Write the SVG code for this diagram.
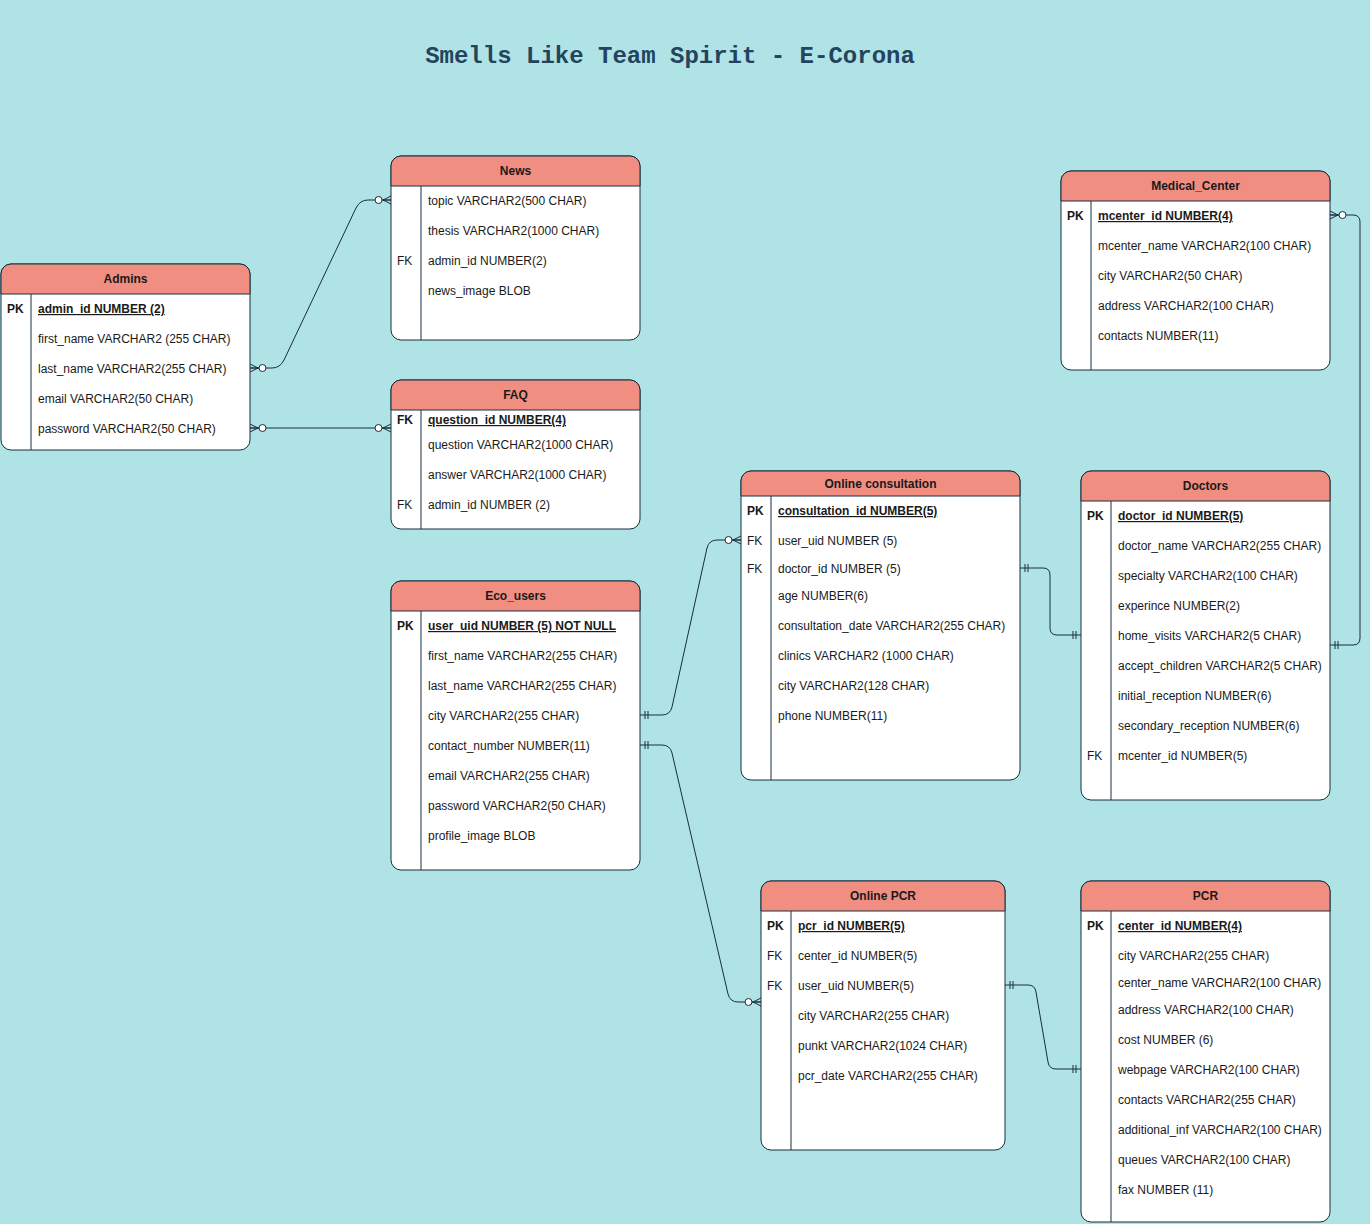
<svg xmlns="http://www.w3.org/2000/svg" width="1370" height="1224" viewBox="0 0 1370 1224">
<style>
.box{fill:#FFFFFF;stroke:#182E3E;stroke-width:1}
.hdr{fill:#F08E81;stroke:#182E3E;stroke-width:1}
.ln{stroke:#182E3E;stroke-width:1;fill:none}
.t{font-family:"Liberation Sans",Arial,sans-serif;font-size:12px;fill:#1A1A1A}
.h{font-family:"Liberation Sans",Arial,sans-serif;font-size:12px;font-weight:bold;fill:#1A1A1A;text-anchor:middle}
.b{font-weight:bold}
.u{font-weight:bold;text-decoration:underline}
.title{font-family:"Liberation Mono","Courier New",monospace;font-size:24px;font-weight:bold;fill:#23445D;text-anchor:middle}
.conn{stroke:#182E3E;stroke-width:1;fill:none;marker-start:url(#one);marker-end:url(#one)}
</style>
<defs>
<marker id="zm" viewBox="-20 -10 22 20" markerWidth="22" markerHeight="20" refX="0" refY="0" orient="auto-start-reverse" markerUnits="userSpaceOnUse" overflow="visible">
<path d="M-9,0 L0,0 M-8,0 L0,-4 M-8,0 L0,4" stroke="#182E3E" stroke-width="1" fill="none"/>
<circle cx="-12.5" cy="0" r="3.5" fill="#FFFFFF" stroke="#182E3E" stroke-width="1"/>
</marker>
<marker id="one" viewBox="-20 -10 22 20" markerWidth="22" markerHeight="20" refX="0" refY="0" orient="auto-start-reverse" markerUnits="userSpaceOnUse" overflow="visible">
<path d="M-5,-4 L-5,4 M-8,-4 L-8,4" stroke="#182E3E" stroke-width="1" fill="none"/>
</marker>
</defs>
<rect x="0" y="0" width="1370" height="1224" fill="#B0E3E6"/>
<text class="title" x="670" y="63">Smells Like Team Spirit - E-Corona</text>

<g id="connectors">
<path class="ln" d="M250,368 L272,368 Q280,368 284,360 L356,208 Q360,200 368,200 L391,200" marker-start="url(#zm)" marker-end="url(#zm)"/>
<path class="ln" d="M250,428 L391,428" marker-start="url(#zm)" marker-end="url(#zm)"/>
<path class="ln" d="M640,715 L662,715 Q670,715 672,707 L707,548 Q709,540 717,540 L741,540" marker-start="url(#one)" marker-end="url(#zm)"/>
<path class="ln" d="M640,745 L662,745 Q670,745 672,753 L728,994 Q730,1002 738,1002 L761,1002" marker-start="url(#one)" marker-end="url(#zm)"/>
<path class="ln" d="M1020,568 L1043,568 Q1050,568 1050,575 L1050,628 Q1050,635 1057,635 L1081,635" marker-start="url(#one)" marker-end="url(#one)"/>
<path class="ln" d="M1330,215 L1353,215 Q1360,215 1360,222 L1360,638 Q1360,645 1353,645 L1330,645" marker-start="url(#zm)" marker-end="url(#one)"/>
<path class="ln" d="M1005,985 L1028,985 Q1035,985 1036,992 L1048,1062 Q1049,1069 1056,1069 L1081,1069" marker-start="url(#one)" marker-end="url(#one)"/>
</g>

<g id="admins">
<rect class="box" x="1" y="264" width="249" height="186" rx="10"/>
<path class="hdr" d="M1,294 L1,274 A10,10 0 0 1 11,264 L240,264 A10,10 0 0 1 250,274 L250,294 Z"/>
<line class="ln" x1="31" y1="294" x2="31" y2="450"/>
<text class="h" x="125.5" y="283">Admins</text>
<text class="t b" x="7" y="313">PK</text>
<text class="t u" x="38" y="313">admin_id NUMBER (2)</text>
<text class="t" x="38" y="343">first_name VARCHAR2 (255 CHAR)</text>
<text class="t" x="38" y="373">last_name VARCHAR2(255 CHAR)</text>
<text class="t" x="38" y="403">email VARCHAR2(50 CHAR)</text>
<text class="t" x="38" y="433">password VARCHAR2(50 CHAR)</text>
</g>

<g id="news">
<rect class="box" x="391" y="156" width="249" height="184" rx="10"/>
<path class="hdr" d="M391,186 L391,166 A10,10 0 0 1 401,156 L630,156 A10,10 0 0 1 640,166 L640,186 Z"/>
<line class="ln" x1="421" y1="186" x2="421" y2="340"/>
<text class="h" x="515.5" y="175">News</text>
<text class="t" x="428" y="205">topic VARCHAR2(500 CHAR)</text>
<text class="t" x="428" y="235">thesis VARCHAR2(1000 CHAR)</text>
<text class="t" x="397" y="265">FK</text>
<text class="t" x="428" y="265">admin_id NUMBER(2)</text>
<text class="t" x="428" y="295">news_image BLOB</text>
</g>

<g id="faq">
<rect class="box" x="391" y="380" width="249" height="149" rx="10"/>
<path class="hdr" d="M391,410 L391,390 A10,10 0 0 1 401,380 L630,380 A10,10 0 0 1 640,390 L640,410 Z"/>
<line class="ln" x1="421" y1="410" x2="421" y2="529"/>
<text class="h" x="515.5" y="399">FAQ</text>
<text class="t b" x="397" y="424">FK</text>
<text class="t u" x="428" y="424">question_id NUMBER(4)</text>
<text class="t" x="428" y="449">question VARCHAR2(1000 CHAR)</text>
<text class="t" x="428" y="479">answer VARCHAR2(1000 CHAR)</text>
<text class="t" x="397" y="509">FK</text>
<text class="t" x="428" y="509">admin_id NUMBER (2)</text>
</g>

<g id="medical_center">
<rect class="box" x="1061" y="171" width="269" height="199" rx="10"/>
<path class="hdr" d="M1061,201 L1061,181 A10,10 0 0 1 1071,171 L1320,171 A10,10 0 0 1 1330,181 L1330,201 Z"/>
<line class="ln" x1="1091" y1="201" x2="1091" y2="370"/>
<text class="h" x="1195.5" y="190">Medical_Center</text>
<text class="t b" x="1067" y="220">PK</text>
<text class="t u" x="1098" y="220">mcenter_id NUMBER(4)</text>
<text class="t" x="1098" y="250">mcenter_name VARCHAR2(100 CHAR)</text>
<text class="t" x="1098" y="280">city VARCHAR2(50 CHAR)</text>
<text class="t" x="1098" y="310">address VARCHAR2(100 CHAR)</text>
<text class="t" x="1098" y="340">contacts NUMBER(11)</text>
</g>

<g id="online_consultation">
<rect class="box" x="741" y="471" width="279" height="309" rx="10"/>
<path class="hdr" d="M741,496 L741,481 A10,10 0 0 1 751,471 L1010,471 A10,10 0 0 1 1020,481 L1020,496 Z"/>
<line class="ln" x1="771" y1="496" x2="771" y2="780"/>
<text class="h" x="880.5" y="488">Online consultation</text>
<text class="t b" x="747" y="515">PK</text>
<text class="t u" x="778" y="515">consultation_id NUMBER(5)</text>
<text class="t" x="747" y="545">FK</text>
<text class="t" x="778" y="545">user_uid NUMBER (5)</text>
<text class="t" x="747" y="573">FK</text>
<text class="t" x="778" y="573">doctor_id NUMBER (5)</text>
<text class="t" x="778" y="600">age NUMBER(6)</text>
<text class="t" x="778" y="630">consultation_date VARCHAR2(255 CHAR)</text>
<text class="t" x="778" y="660">clinics VARCHAR2 (1000 CHAR)</text>
<text class="t" x="778" y="690">city VARCHAR2(128 CHAR)</text>
<text class="t" x="778" y="720">phone NUMBER(11)</text>
</g>

<g id="doctors">
<rect class="box" x="1081" y="471" width="249" height="329" rx="10"/>
<path class="hdr" d="M1081,501 L1081,481 A10,10 0 0 1 1091,471 L1320,471 A10,10 0 0 1 1330,481 L1330,501 Z"/>
<line class="ln" x1="1111" y1="501" x2="1111" y2="800"/>
<text class="h" x="1205.5" y="490">Doctors</text>
<text class="t b" x="1087" y="520">PK</text>
<text class="t u" x="1118" y="520">doctor_id NUMBER(5)</text>
<text class="t" x="1118" y="550">doctor_name VARCHAR2(255 CHAR)</text>
<text class="t" x="1118" y="580">specialty VARCHAR2(100 CHAR)</text>
<text class="t" x="1118" y="610">experince NUMBER(2)</text>
<text class="t" x="1118" y="640">home_visits VARCHAR2(5 CHAR)</text>
<text class="t" x="1118" y="670">accept_children VARCHAR2(5 CHAR)</text>
<text class="t" x="1118" y="700">initial_reception NUMBER(6)</text>
<text class="t" x="1118" y="730">secondary_reception NUMBER(6)</text>
<text class="t" x="1087" y="760">FK</text>
<text class="t" x="1118" y="760">mcenter_id NUMBER(5)</text>
</g>

<g id="eco_users">
<rect class="box" x="391" y="581" width="249" height="289" rx="10"/>
<path class="hdr" d="M391,611 L391,591 A10,10 0 0 1 401,581 L630,581 A10,10 0 0 1 640,591 L640,611 Z"/>
<line class="ln" x1="421" y1="611" x2="421" y2="870"/>
<text class="h" x="515.5" y="600">Eco_users</text>
<text class="t b" x="397" y="630">PK</text>
<text class="t u" x="428" y="630">user_uid NUMBER (5) NOT NULL</text>
<text class="t" x="428" y="660">first_name VARCHAR2(255 CHAR)</text>
<text class="t" x="428" y="690">last_name VARCHAR2(255 CHAR)</text>
<text class="t" x="428" y="720">city VARCHAR2(255 CHAR)</text>
<text class="t" x="428" y="750">contact_number NUMBER(11)</text>
<text class="t" x="428" y="780">email VARCHAR2(255 CHAR)</text>
<text class="t" x="428" y="810">password VARCHAR2(50 CHAR)</text>
<text class="t" x="428" y="840">profile_image BLOB</text>
</g>

<g id="online_pcr">
<rect class="box" x="761" y="881" width="244" height="269" rx="10"/>
<path class="hdr" d="M761,911 L761,891 A10,10 0 0 1 771,881 L995,881 A10,10 0 0 1 1005,891 L1005,911 Z"/>
<line class="ln" x1="791" y1="911" x2="791" y2="1150"/>
<text class="h" x="883" y="900">Online PCR</text>
<text class="t b" x="767" y="930">PK</text>
<text class="t u" x="798" y="930">pcr_id NUMBER(5)</text>
<text class="t" x="767" y="960">FK</text>
<text class="t" x="798" y="960">center_id NUMBER(5)</text>
<text class="t" x="767" y="990">FK</text>
<text class="t" x="798" y="990">user_uid NUMBER(5)</text>
<text class="t" x="798" y="1020">city VARCHAR2(255 CHAR)</text>
<text class="t" x="798" y="1050">punkt VARCHAR2(1024 CHAR)</text>
<text class="t" x="798" y="1080">pcr_date VARCHAR2(255 CHAR)</text>
</g>

<g id="pcr">
<rect class="box" x="1081" y="881" width="249" height="341" rx="10"/>
<path class="hdr" d="M1081,911 L1081,891 A10,10 0 0 1 1091,881 L1320,881 A10,10 0 0 1 1330,891 L1330,911 Z"/>
<line class="ln" x1="1111" y1="911" x2="1111" y2="1222"/>
<text class="h" x="1205.5" y="900">PCR</text>
<text class="t b" x="1087" y="930">PK</text>
<text class="t u" x="1118" y="930">center_id NUMBER(4)</text>
<text class="t" x="1118" y="960">city VARCHAR2(255 CHAR)</text>
<text class="t" x="1118" y="987">center_name VARCHAR2(100 CHAR)</text>
<text class="t" x="1118" y="1014">address VARCHAR2(100 CHAR)</text>
<text class="t" x="1118" y="1044">cost NUMBER (6)</text>
<text class="t" x="1118" y="1074">webpage VARCHAR2(100 CHAR)</text>
<text class="t" x="1118" y="1104">contacts VARCHAR2(255 CHAR)</text>
<text class="t" x="1118" y="1134">additional_inf VARCHAR2(100 CHAR)</text>
<text class="t" x="1118" y="1164">queues VARCHAR2(100 CHAR)</text>
<text class="t" x="1118" y="1194">fax NUMBER (11)</text>
</g>
</svg>
